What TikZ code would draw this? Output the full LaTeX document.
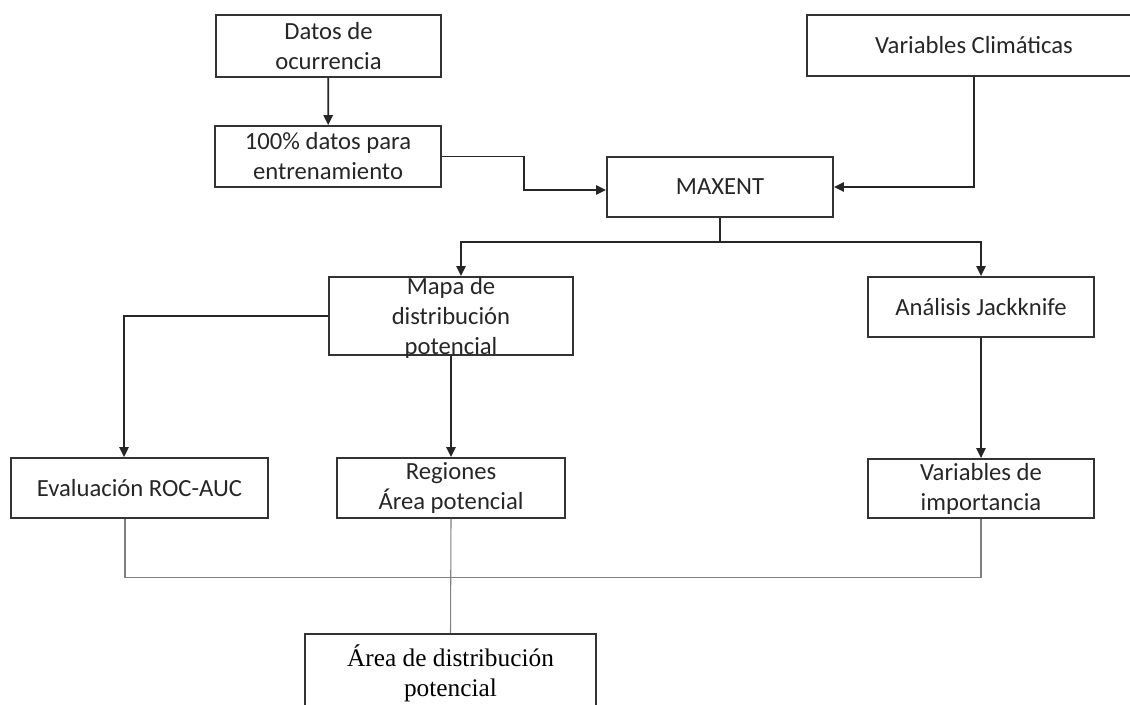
\documentclass[tikz,border=0pt]{standalone}
\usepackage{fontspec}
\setmainfont{Carlito}
\newfontfamily\timesfont{Liberation Serif}
\usetikzlibrary{arrows.meta}
\begin{document}
\begin{tikzpicture}[x=0.75pt,y=-0.75pt,
  box/.style={draw=black!80, line width=1.4pt, align=center, inner sep=0pt, text=black!85,
    font=\fontsize{18.5}{22.5}\selectfont},
  lbl/.style={align=center, inner sep=0pt, text=black!85, font=\fontsize{18.5}{22.5}\selectfont},
  conn/.style={draw=black!85, line width=1.3pt},
  arr/.style={conn, -{Triangle[length=7.5pt,width=7pt]}},
  thinline/.style={draw=black!50, line width=0.8pt}]
\useasboundingbox (0,0) rectangle (1130,704);

\node[box, minimum width=168.75pt, minimum height=46.5pt] (datos) at (328.5,46) {Datos de\\ocurrencia};
\node[box, minimum width=169.5pt, minimum height=45.75pt] (cien) at (328,156.5) {100\% datos para\\entrenamiento};
\node[box, minimum width=169.5pt, minimum height=45pt] (maxent) at (720,187) {MAXENT};
\node[box, minimum width=250.5pt, minimum height=45.75pt] (varclim) at (974,45.5) {Variables Climáticas};
\node[box, minimum width=183pt, minimum height=58.5pt] (mapa) at (451,316) {};
\node[lbl] (mapatxt) at (451,318) {Mapa de\\distribución\\potencial};
\node[box, minimum width=169.5pt, minimum height=45pt] (jack) at (981,307) {Análisis Jackknife};
\node[box, minimum width=192.75pt, minimum height=45pt] (eval) at (139.5,488) {Evaluación ROC-AUC};
\node[box, minimum width=171pt, minimum height=45pt] (reg) at (451,488) {Regiones\\Área potencial};
\node[box, minimum width=169.5pt, minimum height=44.25pt] (varimp) at (981,488.5) {Variables de\\importancia};
\node[box, minimum width=218.25pt, minimum height=58.5pt, text=black, font=\timesfont\fontsize{19}{22.5}\selectfont] (area) at (450.5,673) {Área de distribución\\potencial};

\draw[arr] (datos) -- (cien);
\draw[arr] (cien.east) -- ++(82,0) |- ([yshift=-2.25pt]maxent.west);
\draw[arr] (varclim.south) |- (maxent.east);
\draw[conn] (maxent.south) -- ++(0,24) coordinate (split);
\draw[arr] (split) -| ([xshift=7.5pt]mapa.north);
\draw[arr] (split) -| (jack.north);
\draw[arr] (mapa.west) -| ([xshift=-11.6pt]eval.north);
\draw[arr] (mapa.south) -- (reg.north);
\draw[arr] (jack.south) -- (varimp.north);

\draw[thinline] ([xshift=-10.9pt]eval.south) -- ++(0,59) -| (varimp.south);
\draw[thinline] (reg.south) -- (area.north);
\end{tikzpicture}
\end{document}
